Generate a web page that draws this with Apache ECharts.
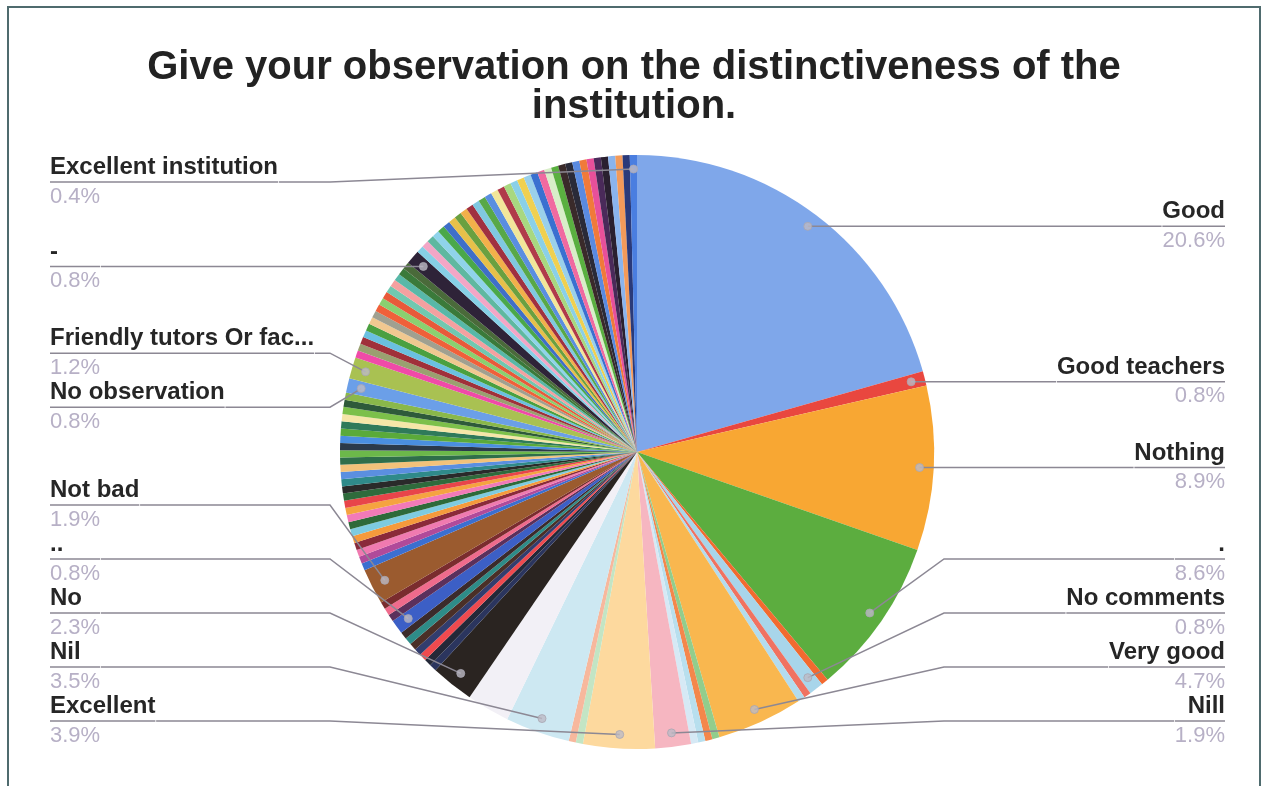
<!DOCTYPE html>
<html>
<head>
<meta charset="utf-8">
<title>Give your observation on the distinctiveness of the institution.</title>
<script src="https://cdn.jsdelivr.net/npm/echarts@6/dist/echarts.min.js"></script>
<style>
  html, body { margin: 0; padding: 0; background: #fff; }
  #chart { width: 1268px; height: 786px; }
</style>
</head>
<body>
<div id="chart"></div>
<script>
var chartTitle = 'Give your observation on the distinctiveness of the\ninstitution.'

// slices in drawing order, clockwise from 12 o'clock (null = answer without a label)
var sliceNames = [
  'Good', 'Good teachers', 'Nothing', '.', null, 'No comments', null, null, 'Very good',
  null, null, null, null, 'Nill', 'Excellent', null, null, 'Nil', null, 'No',
  null, null, null, null, null, null, null, '..', null, null, null, 'Not bad',
  null, null, null, null, null, null, null, null, null, null, null, null, null,
  null, null, null, null, null, null, null, null, null, null, null, null,
  'No observation', 'Friendly tutors Or fac...',
  null, null, null, null, null, null, null, null, null, null, null, null, null, null, null,
  '-',
  null, null, null, null, null, null, null, null, null, null, null, null, null, null, null, null, null,
  null, null, null, null, null, null, null, null, null, null, null, null, null, null, null, null,
  'Excellent institution'
]
// number of responses per slice (257 in total)
var sliceCounts = [
  53, 2, 23, 22, 1, 2, 1, 1, 12,
  1, 1, 1, 1, 5, 10, 1, 1, 9, 6, 6,
  1, 1, 1, 1, 1, 1, 1, 2, 1, 1, 1, 5,
  1, 1, 1, 1, 1, 1, 1, 1, 1, 1, 1, 1, 1,
  1, 1, 1, 1, 1, 1, 1, 1, 1, 1, 1, 1,
  2, 3,
  1, 1, 1, 1, 1, 1, 1, 1, 1, 1, 1, 1, 1, 1, 1,
  2,
  1, 1, 1, 1, 1, 1, 1, 1, 1, 1, 1, 1, 1, 1, 1, 1, 1,
  1, 1, 1, 1, 1, 1, 1, 1, 1, 1, 1, 1, 1, 1, 1, 1,
  1
]
var sliceColors = [
  '#7fa7ea', '#e9473f', '#f8a733', '#5cad3f', '#f26a30', '#a8d5ea', '#f07261', '#b3dcee', '#f9b74f',
  '#92cd8c', '#f4874b', '#b8dfee', '#d6e9f5', '#f6b6c1', '#fdd99e', '#c3e5c4', '#f7b89d', '#cde8f2', '#f2f0f6', '#2a2421',
  '#2b355e', '#242838', '#ef4a4f', '#323d6e', '#4a2f27', '#2e8c88', '#3b2b2b', '#3c5fc6', '#5b305c', '#ef6b8c', '#7a2c2e', '#9b5b2f',
  '#3b6fd0', '#b04a9a', '#f07ab0', '#8a2a3a', '#f59a3c', '#7ecbe0', '#2e6a3a', '#f27ab8', '#f5a340', '#e8454a', '#2f6b3c', '#2a2a2a', '#2f8a8a',
  '#5b8fe0', '#f2c27a', '#2f6e4a', '#6cb84a', '#2b3a4a', '#4a8fe0', '#5aaa3a', '#2f7a5a', '#f5e6a8', '#7cc04a', '#2e5a3a', '#8ab84a',
  '#6b9fe8', '#a9c152',
  '#f04aa8', '#9aa070', '#a0303a', '#6ac0e0', '#4aa040', '#f0c890', '#a0a090', '#f0603a', '#8ad070', '#e85a3a', '#70c8b0', '#f4a0a0', '#58b8a8', '#3a7a3a', '#4a6a3a',
  '#2e2338',
  '#86d0e6', '#f3a6c6', '#5fb8a0', '#8fd3ea', '#4aa84a', '#3f6fc8', '#e7c04a', '#6aa040', '#f2b04a', '#a03040', '#80c8e0', '#58a848', '#5a8ee0', '#f2e69a', '#b03a4a', '#a8d880', '#8ad0e8',
  '#f0d050', '#9ad0ea', '#3a70d0', '#f06aa0', '#d8eec8', '#5ab040', '#3a2a2a', '#2a2a38', '#5a8ae0', '#f07a3a', '#e8509a', '#4a2a5a', '#2a2030', '#8ab4ee', '#f39a5a', '#2a3a7a',
  '#4a7ee0'
]

// pie geometry in px
var CX = 637, CY = 452, R = 297
var DOT_R = 283      // where the label lines start
var ELBOW = 10       // label lines bend this far outside the pie
var LABEL_TOP = 155, LABEL_BOTTOM = 748, LABEL_H = 54
var FONT = '"Liberation Sans", Arial, sans-serif'

var total = sliceCounts.reduce(function (a, b) { return a + b }, 0)
var mids = []
var acc = 0
sliceCounts.forEach(function (c) { mids.push(acc + c / 2); acc += c })

// Google-style label stacking: each label wants the height of its dot,
// crowded labels are grouped and centred on their mean, kept inside the bounds
function placeLabels() {
  var spots = {}
  var sides = { left: [], right: [] }
  sliceNames.forEach(function (n, i) {
    if (n == null) return
    var a = mids[i] / total * 2 * Math.PI
    var dx = Math.sin(a), dy = -Math.cos(a)
    var s = { dotX: CX + DOT_R * dx, dotY: CY + DOT_R * dy, side: dx < 0 ? 'left' : 'right' }
    s.want = s.dotY
    spots[i] = s
    sides[s.side].push(s)
  })
  Object.keys(sides).forEach(function (k) {
    var list = sides[k].sort(function (a, b) { return a.want - b.want })
    var groups = list.map(function (s) { return { items: [s], mean: s.want } })
    var changed = true
    while (changed) {
      changed = false
      groups.forEach(function (g) {
        var n = g.items.length
        var start = g.mean - (n - 1) * LABEL_H / 2
        start = Math.max(start, LABEL_TOP + LABEL_H / 2)
        start = Math.min(start, LABEL_BOTTOM - LABEL_H / 2 - (n - 1) * LABEL_H)
        g.start = start
      })
      for (var j = 1; j < groups.length; j++) {
        var p = groups[j - 1], q = groups[j]
        if (q.start < p.start + p.items.length * LABEL_H - 0.5) {
          var items = p.items.concat(q.items)
          var mean = items.reduce(function (t, s) { return t + s.want }, 0) / items.length
          groups.splice(j - 1, 2, { items: items, mean: mean })
          changed = true
          break
        }
      }
    }
    groups.forEach(function (g) {
      g.items.forEach(function (s, m) { s.y = g.start + m * LABEL_H })
    })
  })
  return spots
}
var spots = placeLabels()

function sliceName(i) {
  return sliceNames[i] != null ? sliceNames[i] : 'Other ' + (i + 1)
}
var sliceData = sliceCounts.map(function (v, i) {
  return { name: sliceName(i), value: v }
})
var labelData = sliceCounts.map(function (v, i) {
  var named = sliceNames[i] != null
  return { name: sliceName(i), value: v, label: { show: named }, labelLine: { show: named } }
})

var dotData = []
sliceNames.forEach(function (n, i) {
  if (n != null) dotData.push([DOT_R, mids[i]])
})

// shared placement of both pie layers
var pieBox = {
  type: 'pie',
  left: 7,
  right: 0,
  top: 0,
  bottom: 0,
  center: [CX - 7, CY],
  radius: [0, R],
  startAngle: 90,
  clockwise: true,
  silent: true
}

var chart = echarts.init(document.getElementById('chart'))
chart.setOption({
  backgroundColor: '#fff',
  animation: false,
  title: {
    text: chartTitle,
    left: 'center',
    top: 43,
    textStyle: { fontFamily: FONT, fontWeight: 'bold', fontSize: 40, lineHeight: 39, color: '#222' }
  },
  graphic: [{
    type: 'rect',
    silent: true,
    shape: { x: 8, y: 7, width: 1252, height: 800 },
    style: { fill: 'none', stroke: '#4f6b6e', lineWidth: 2 }
  }],
  polar: { center: [CX, CY], radius: [0, R] },
  angleAxis: { type: 'value', min: 0, max: total, startAngle: 90, clockwise: true, show: false },
  radiusAxis: { type: 'value', min: 0, max: R, show: false },
  series: [
    // coloured slices
    Object.assign({}, pieBox, {
      z: 2,
      data: sliceData,
      color: sliceColors,
      itemStyle: { borderWidth: 0 },
      label: { show: false },
      labelLine: { show: false }
    }),
    // invisible copy on top, carrying the labels so their lines cross the slices
    Object.assign({}, pieBox, {
      z: 3,
      data: labelData,
      itemStyle: { color: 'rgba(0,0,0,0)', borderWidth: 0 },
      avoidLabelOverlap: true,
      label: {
        position: 'outer',
        alignTo: 'edge',
        edgeDistance: 43,
        distanceToLabelLine: 0,
        formatter: function (p) {
          var pct = (p.value / total * 100).toFixed(1)
          return '{name|' + p.name + '}\n{hr|}\n{per|' + pct + '%}'
        },
        rich: {
          name: { fontFamily: FONT, fontWeight: 'bold', fontSize: 24, lineHeight: 25, color: '#262626' },
          hr: { width: '100%', height: 0, lineHeight: 4, borderWidth: 1.5, borderColor: '#8c8894' },
          per: { fontFamily: FONT, fontSize: 22, lineHeight: 25, color: '#b7b0c6' }
        }
      },
      labelLine: {
        length: DOT_R - R,
        length2: 10,
        lineStyle: { color: '#8c8894', width: 1.5, opacity: 1 }
      },
      labelLayout: function (params) {
        var s = spots[params.dataIndex]
        if (!s) return {}
        var isLeft = s.side === 'left'
        var r = params.labelRect
        var endX = isLeft ? r.x + r.width : r.x
        var elbowX = isLeft ? CX - R - ELBOW : CX + R + ELBOW
        return {
          y: s.y,
          labelLinePoints: [[s.dotX, s.dotY], [elbowX, s.y], [endX, s.y]]
        }
      }
    }),
    {
      type: 'scatter',
      coordinateSystem: 'polar',
      silent: true,
      z: 5,
      symbolSize: 8,
      itemStyle: { color: '#bdbac6', borderColor: '#a9a6b2', borderWidth: 1 },
      data: dotData
    }
  ]
})
</script>
</body>
</html>
